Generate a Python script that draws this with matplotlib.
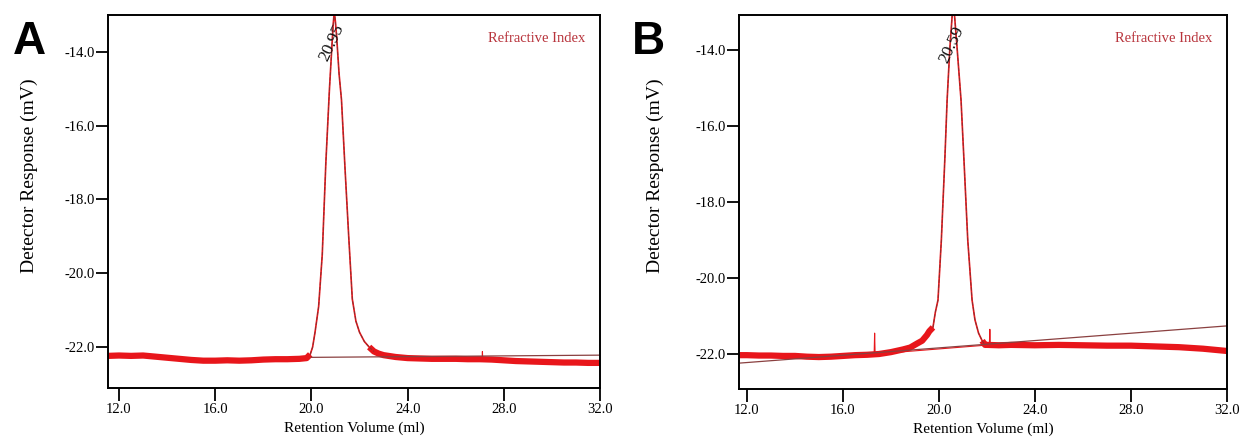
import numpy as np
import matplotlib.pyplot as plt

plt.rcParams['font.family'] = ['Liberation Serif', 'DejaVu Serif']

# ---- panel A (peak 20.95 ml) ----
a_left_x = [11.54, 12.0, 12.5, 13.0, 13.5, 14.0, 14.5, 15.0, 15.5, 16.0, 16.5, 17.0,
            17.5, 18.0, 18.5, 19.0, 19.5, 19.8]
a_left_y = [-22.24, -22.23, -22.24, -22.23, -22.26, -22.29, -22.32, -22.35, -22.37, -22.37,
            -22.36, -22.37, -22.36, -22.34, -22.33, -22.33, -22.32, -22.3]
a_peak_x = [19.95, 20.05, 20.15, 20.3, 20.45, 20.6, 20.75, 20.9, 20.95, 21.0, 21.05, 21.15,
            21.25, 21.4, 21.55, 21.7, 21.85, 22.0, 22.2, 22.4, 22.6]
a_peak_y = [-22.2, -22.0, -21.6, -20.9, -19.5, -17.0, -15.0, -13.3, -12.9, -13.2, -13.6, -14.6,
            -15.3, -17.2, -19.0, -20.7, -21.3, -21.6, -21.85, -22.0, -22.12]
a_right_x = [22.8, 23.0, 23.5, 24.0, 24.5, 25.0, 25.5, 26.0, 26.5, 27.0, 27.5, 28.0,
             28.5, 29.0, 29.5, 30.0, 30.5, 31.0, 31.5, 32.0]
a_right_y = [-22.18, -22.22, -22.27, -22.3, -22.31, -22.32, -22.32, -22.32, -22.33, -22.33,
             -22.34, -22.36, -22.38, -22.39, -22.4, -22.41, -22.42, -22.42, -22.43, -22.43]
a_spike_x = [27.1, 27.11, 27.12]
a_spike_y = [-22.3, -22.12, -22.3]
a_base_x = [20.0, 32.0]
a_base_y = [-22.28, -22.22]

# ---- panel B (peak 20.59 ml) ----
b_left_x = [11.67, 12.0, 12.5, 13.0, 13.5, 14.0, 14.5, 15.0, 15.5, 16.0, 16.5, 17.0,
            17.5, 18.0, 18.5, 18.8, 19.1, 19.3, 19.5, 19.6]
b_left_y = [-22.03, -22.03, -22.04, -22.04, -22.05, -22.05, -22.07, -22.08, -22.07, -22.05,
            -22.03, -22.02, -22.0, -21.95, -21.88, -21.83, -21.72, -21.65, -21.5, -21.4]
b_peak_x = [19.75, 19.85, 19.96, 20.1, 20.25, 20.34, 20.45, 20.55, 20.59, 20.65, 20.75,
            20.92, 21.05, 21.2, 21.38, 21.5, 21.65, 21.8, 21.92]
b_peak_y = [-21.3, -20.9, -20.58, -19.0, -16.8, -15.32, -14.0, -13.1, -12.9, -13.1, -13.9,
            -15.32, -17.0, -19.0, -20.58, -21.1, -21.45, -21.65, -21.76]
b_right_x = [22.0, 22.5, 23.0, 24.0, 25.0, 26.0, 27.0, 28.0, 29.0, 30.0, 31.0, 32.0]
b_right_y = [-21.76, -21.77, -21.76, -21.77, -21.76, -21.77, -21.78, -21.78, -21.8, -21.82,
             -21.86, -21.92]
b_spike_x = [17.3, 17.32, 17.34, 22.1, 22.12, 22.14]
b_spike_y = [-22.0, -21.45, -22.0, -21.76, -21.35, -21.76]
b_base_x = [11.67, 32.0]
b_base_y = [-22.24, -21.26]

x_ticks = [12.0, 16.0, 20.0, 24.0, 28.0, 32.0]
y_ticks = [-22.0, -20.0, -18.0, -16.0, -14.0]

panels = [
    dict(rect=[0.0870, 0.1142, 0.3965, 0.8516], xlim=(11.54, 32.0), ylim=(-23.11, -13.0),
         left=(a_left_x, a_left_y), peak=(a_peak_x, a_peak_y), right=(a_right_x, a_right_y),
         spike=(a_spike_x, a_spike_y), base=(a_base_x, a_base_y), tag='A', tag_x=0.010,
         ylab_x=0.024, peak_label='20.95', plab=(20.84, -13.75)),
    dict(rect=[0.5955, 0.1119, 0.3932, 0.8539], xlim=(11.67, 32.0), ylim=(-22.92, -13.08),
         left=(b_left_x, b_left_y), peak=(b_peak_x, b_peak_y), right=(b_right_x, b_right_y),
         spike=(b_spike_x, b_spike_y), base=(b_base_x, b_base_y), tag='B', tag_x=0.509,
         ylab_x=0.528, peak_label='20.59', plab=(20.52, -13.85)),
]

fig = plt.figure(figsize=(12.41, 4.38), dpi=100)

for p in panels:
    ax = fig.add_axes(p['rect'])
    px, py = list(p['peak'][0]), list(p['peak'][1])
    xs = list(p['left'][0]) + px + list(p['right'][0])
    ys = list(p['left'][1]) + py + list(p['right'][1])
    # noisy baseline band (runs a little way into the foot of the peak)
    ax.plot(list(p['left'][0]) + px[:1], list(p['left'][1]) + py[:1],
            color='#e8161b', lw=4.5, solid_capstyle='butt')
    ax.plot(px[-2:] + list(p['right'][0]), py[-2:] + list(p['right'][1]),
            color='#e8161b', lw=4.5, solid_capstyle='butt')
    # full trace
    ax.plot(xs, ys, color='#e8161b', lw=1.2)
    ax.plot(p['spike'][0], p['spike'][1], color='#e8161b', lw=0.8)
    ax.plot(px, py, color='#7a3434', lw=0.6, ls=(0, (4, 2)))
    # integration baseline
    ax.plot(p['base'][0], p['base'][1], color='#8a4040', lw=0.9)

    ax.set_xlim(*p['xlim'])
    ax.set_ylim(*p['ylim'])
    ax.set_xticks(x_ticks)
    ax.set_yticks(y_ticks)
    ax.set_xticklabels(['%.1f' % v for v in x_ticks])
    ax.set_yticklabels(['%.1f' % v for v in y_ticks])
    ax.tick_params(axis='x', direction='out', length=9, width=1.3, labelsize=10.5, pad=2)
    ax.tick_params(axis='y', direction='out', length=8.5, width=1.3, labelsize=10.5, pad=1)
    for s in ax.spines.values():
        s.set_linewidth(1.4)
    ax.set_xlabel('Retention Volume (ml)', fontsize=11, labelpad=4)

    ax.text(0.97, 0.938, 'Refractive Index', transform=ax.transAxes, ha='right', va='center',
            color='#b8343c', fontsize=10.5)
    ax.text(p['plab'][0], p['plab'][1], p['peak_label'], rotation=65, ha='center',
            va='center', fontsize=12.5, color='#111111')

    fig.text(p['ylab_x'], 0.60, 'Detector Response (mV)', rotation=90, ha='center',
             va='center', fontsize=14)
    fig.text(p['tag_x'], 0.955, p['tag'], ha='left', va='top', fontsize=33,
             fontweight='bold', family='Liberation Sans')

fig.savefig('out.png', dpi=100)
